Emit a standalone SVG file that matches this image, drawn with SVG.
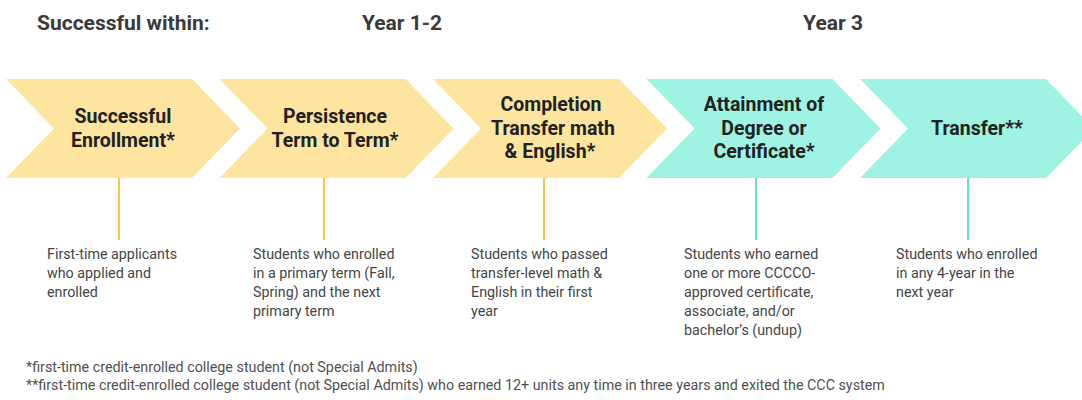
<svg xmlns="http://www.w3.org/2000/svg" xmlns:xlink="http://www.w3.org/1999/xlink" width="1082" height="400" viewBox="0 0 1082 400">
  <defs>
    <!-- chevron step shape, 186 wide body + 48 px point -->
    <polygon id="chevron" points="0,79 186,79 234,128.5 186,178 0,178 48,128.5"/>
    <style>
      .bg { fill: #ffffff; }
      .early { fill: #fde59f; }
      .late { fill: #9ef3e3; }
      .hdr { font-family: Roboto, "Liberation Sans", sans-serif; font-weight: 700; font-size: 21px; fill: #3a3a3a; }
      .step { font-family: Roboto, "Liberation Sans", sans-serif; font-weight: 700; font-size: 19.5px; fill: #222222; text-anchor: middle; }
      .desc { font-family: Roboto, "Liberation Sans", sans-serif; font-size: 14.3px; fill: #454545; }
      .note { font-family: Roboto, "Liberation Sans", sans-serif; font-size: 14.3px; fill: #505050; }
      .link-early { stroke: #f7c444; stroke-width: 2; }
      .link-late { stroke: #62e2cd; stroke-width: 2; }
    </style>
  </defs>

  <rect class="bg" x="0" y="0" width="1082" height="400"/>

  <!-- column headings -->
  <g id="headings">
    <text class="hdr" x="37" y="30">Successful within:</text>
    <text class="hdr" x="402" y="30" text-anchor="middle">Year 1-2</text>
    <text class="hdr" x="833" y="30" text-anchor="middle">Year 3</text>
  </g>

  <!-- drop lines from each step to its description -->
  <g id="connectors">
    <line class="link-early" x1="119" y1="178" x2="119" y2="240"/>
    <line class="link-early" x1="324" y1="178" x2="324" y2="240"/>
    <line class="link-early" x1="544" y1="178" x2="544" y2="240"/>
    <line class="link-late" x1="756" y1="178" x2="756" y2="240"/>
    <line class="link-late" x1="968" y1="178" x2="968" y2="240"/>
  </g>

  <g id="step-enrollment">
    <use xlink:href="#chevron" class="early" x="6"/>
    <text class="step" x="123"><tspan x="123" y="123">Successful</tspan><tspan x="123" y="146.5">Enrollment*</tspan></text>
    <text class="desc" x="47"><tspan x="47" y="259">First-time applicants</tspan><tspan x="47" y="278">who applied and</tspan><tspan x="47" y="297">enrolled</tspan></text>
  </g>

  <g id="step-persistence">
    <use xlink:href="#chevron" class="early" x="219.5"/>
    <text class="step" x="335"><tspan x="335" y="123">Persistence</tspan><tspan x="335" y="146.5">Term to Term*</tspan></text>
    <text class="desc" x="253"><tspan x="253" y="259">Students who enrolled</tspan><tspan x="253" y="278">in a primary term (Fall,</tspan><tspan x="253" y="297">Spring) and the next</tspan><tspan x="253" y="316">primary term</tspan></text>
  </g>

  <g id="step-completion">
    <use xlink:href="#chevron" class="early" x="433"/>
    <text class="step" x="551"><tspan x="551" y="111">Completion</tspan><tspan x="553" y="134.5">Transfer math</tspan><tspan x="550" y="158">&amp; English*</tspan></text>
    <text class="desc" x="471"><tspan x="471" y="259">Students who passed</tspan><tspan x="471" y="278">transfer-level math &amp;</tspan><tspan x="471" y="297">English in their first</tspan><tspan x="471" y="316">year</tspan></text>
  </g>

  <g id="step-attainment">
    <use xlink:href="#chevron" class="late" x="646.5"/>
    <text class="step" x="764"><tspan x="764" y="111">Attainment of</tspan><tspan x="764" y="134.5">Degree or</tspan><tspan x="764" y="158">Certificate*</tspan></text>
    <text class="desc" x="684"><tspan x="684" y="259">Students who earned</tspan><tspan x="684" y="278">one or more CCCCO-</tspan><tspan x="684" y="297">approved certificate,</tspan><tspan x="684" y="316">associate, and/or</tspan><tspan x="684" y="335">bachelor’s (undup)</tspan></text>
  </g>

  <g id="step-transfer">
    <use xlink:href="#chevron" class="late" x="860"/>
    <text class="step" x="977" y="135">Transfer**</text>
    <text class="desc" x="896"><tspan x="896" y="259">Students who enrolled</tspan><tspan x="896" y="278">in any 4-year in the</tspan><tspan x="896" y="297">next year</tspan></text>
  </g>

  <!-- footnotes -->
  <g id="footnotes">
    <text class="note" x="26" y="372">*first-time credit-enrolled college student (not Special Admits)</text>
    <text class="note" x="26" y="390">**first-time credit-enrolled college student (not Special Admits) who earned 12+ units any time in three years and exited the CCC system</text>
  </g>
</svg>
